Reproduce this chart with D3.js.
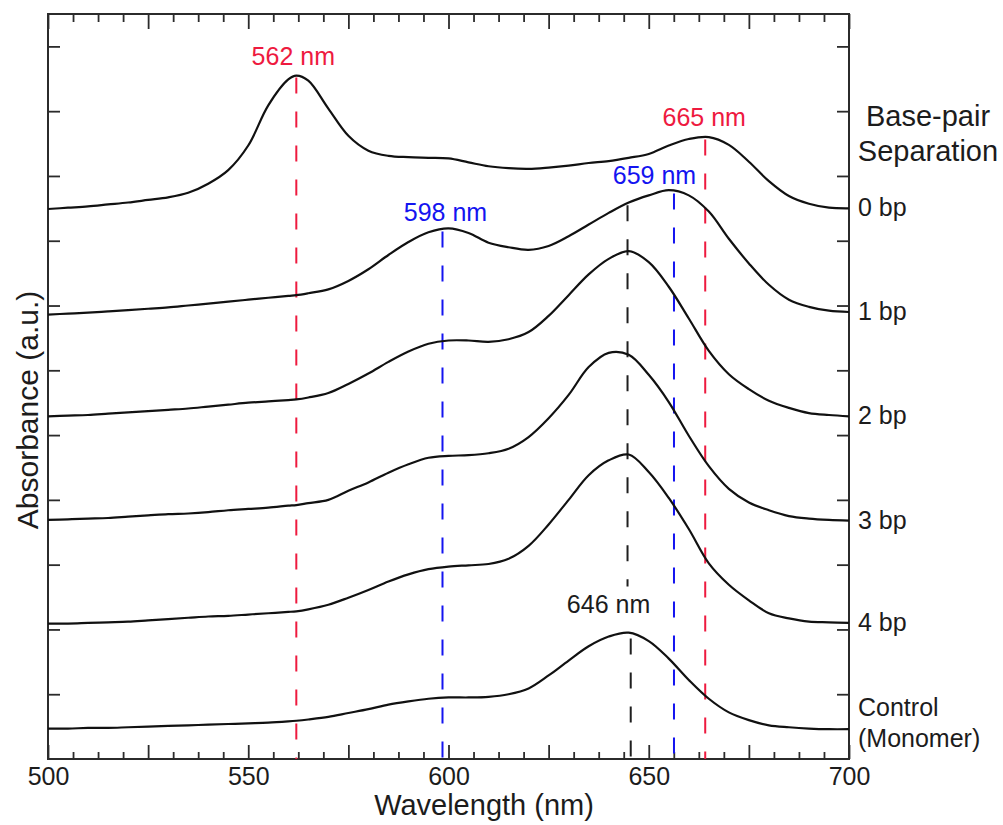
<!DOCTYPE html>
<html><head><meta charset="utf-8">
<script src="https://cdn.jsdelivr.net/npm/d3@7"></script>
<style>
body{margin:0;background:#fff}
svg{display:block}
text{font-family:"Liberation Sans",Arial,Helvetica,sans-serif}
</style>
</head><body>
<svg id="chart" width="1003" height="825"></svg>
<script>
// ---------------- data ----------------
const wavelengths = [500,505,510,515,520,525,530,535,540,545,550,555,560,562,565,570,575,580,585,590,595,600,605,610,615,620,625,630,635,640,645,650,655,660,665,670,675,680,685,690,695,700];
const seriesNames = ["0 bp","1 bp","2 bp","3 bp","4 bp","Control"];
const offsets = [0.849, 0.686, 0.529, 0.369, 0.209, 0.047];
const bp0 = [0.000,0.002,0.004,0.007,0.010,0.014,0.018,0.025,0.039,0.060,0.098,0.160,0.200,0.206,0.198,0.155,0.113,0.090,0.082,0.080,0.079,0.078,0.072,0.066,0.063,0.062,0.064,0.067,0.071,0.074,0.079,0.085,0.098,0.108,0.111,0.099,0.073,0.043,0.020,0.008,0.002,0.001];
const bp1 = [0.000,0.0015,0.003,0.005,0.007,0.009,0.011,0.014,0.017,0.020,0.023,0.026,0.029,0.030,0.033,0.039,0.052,0.070,0.092,0.112,0.127,0.133,0.126,0.111,0.104,0.100,0.106,0.121,0.139,0.157,0.173,0.184,0.192,0.184,0.159,0.117,0.079,0.046,0.023,0.012,0.006,0.004];
const bp2 = [0.000,0.001,0.002,0.004,0.006,0.008,0.010,0.012,0.015,0.018,0.021,0.023,0.025,0.026,0.029,0.036,0.050,0.066,0.084,0.100,0.112,0.117,0.117,0.115,0.119,0.130,0.155,0.187,0.219,0.243,0.255,0.238,0.200,0.151,0.101,0.065,0.042,0.024,0.013,0.005,0.002,0.000];
const bp3 = [0.000,0.001,0.002,0.003,0.005,0.007,0.009,0.010,0.012,0.015,0.017,0.019,0.022,0.023,0.026,0.031,0.045,0.058,0.073,0.086,0.096,0.099,0.100,0.103,0.110,0.128,0.157,0.193,0.236,0.258,0.255,0.224,0.182,0.130,0.083,0.048,0.027,0.015,0.006,0.002,0.000,-0.001];
const bp4 = [0.000,0.000,0.001,0.002,0.003,0.005,0.007,0.009,0.011,0.012,0.014,0.016,0.018,0.019,0.022,0.029,0.040,0.052,0.065,0.076,0.084,0.088,0.090,0.092,0.100,0.120,0.153,0.191,0.229,0.252,0.261,0.234,0.194,0.146,0.093,0.060,0.036,0.016,0.008,0.003,0.002,0.001];
const control = [0.000,0.000,0.001,0.001,0.002,0.003,0.004,0.005,0.006,0.007,0.008,0.009,0.011,0.012,0.014,0.018,0.024,0.030,0.037,0.042,0.046,0.048,0.048,0.049,0.053,0.062,0.082,0.105,0.127,0.142,0.148,0.135,0.108,0.075,0.046,0.025,0.013,0.005,0.002,0.000,-0.001,-0.001];
const spectra = [bp0, bp1, bp2, bp3, bp4, control];

// peak markers (wavelength where line is drawn, series it starts from, label)
const markerNm = [562, 598.5, 656.3, 664.1, 644.7];
const markerSeries = [0, 1, 1, 0, 1];
const markerText = ["562 nm", "598 nm", "659 nm", "665 nm", "646 nm"];
const controlPeakNm = 645.5;

const xTickLabels = [500, 550, 600, 650, 700];
const yTicks = [0.1,0.2,0.3,0.4,0.5,0.6,0.7,0.8,0.9,1.0,1.1];

// ---------------- drawing ----------------
const svg = d3.select("#chart");
const L = 48, R = 849, T = 14, B = 759;
const x = d3.scaleLinear().domain([500, 700]).range([L, R]);
const y = d3.scaleLinear().domain([0, 1.15]).range([B, T]);
const axisColor = "#2b2b2b";
const textColor = "#1c1c1c";
const FONT = '"Liberation Sans", Arial, Helvetica, sans-serif';

function valueAt(series, nm) {
  const i = d3.bisectLeft(wavelengths, nm);
  if (wavelengths[i] === nm) return series[i];
  const x0 = wavelengths[i - 1], x1 = wavelengths[i];
  const t = (nm - x0) / (x1 - x0);
  return series[i - 1] * (1 - t) + series[i] * t;
}

// ticks
const majors = d3.range(500, 700.001, 25);
const minors = d3.range(500, 700.001, 6.25).filter(v => Math.abs(v / 25 - Math.round(v / 25)) > 1e-6);

function styleAxis(g) {
  g.select(".domain").remove();
  g.attr("color", axisColor);
  g.selectAll(".tick line").attr("stroke-width", 1.8);
  g.selectAll(".tick text").attr("fill", textColor).style("font-family", FONT).style("font-size", "25px");
}

svg.append("g").attr("transform", `translate(0,${B})`)
  .call(d3.axisBottom(x).tickValues(minors).tickSize(-7).tickFormat(""))
  .call(styleAxis);
svg.append("g").attr("transform", `translate(0,${B})`)
  .call(d3.axisBottom(x).tickValues(majors).tickSize(-14).tickPadding(8)
    .tickFormat(d => xTickLabels.includes(d) ? d : ""))
  .call(styleAxis);
svg.append("g").attr("transform", `translate(0,${T})`)
  .call(d3.axisTop(x).tickValues(minors).tickSize(-8).tickFormat(""))
  .call(styleAxis);
svg.append("g").attr("transform", `translate(0,${T})`)
  .call(d3.axisTop(x).tickValues(majors).tickSize(-15).tickFormat(""))
  .call(styleAxis);
svg.append("g").attr("transform", `translate(${L},0)`)
  .call(d3.axisLeft(y).tickValues(yTicks).tickSize(-12).tickFormat(""))
  .call(styleAxis);
svg.append("g").attr("transform", `translate(${R},0)`)
  .call(d3.axisRight(y).tickValues(yTicks).tickSize(-12).tickFormat(""))
  .call(styleAxis);

// frame
svg.append("rect").attr("x", L).attr("y", T).attr("width", R - L).attr("height", B - T)
  .attr("fill", "none").attr("stroke", axisColor).attr("stroke-width", 2);

// marker lines
const markerColor = ["#ee1a3f", "#1414f0", "#1414f0", "#ee1a3f", "#1f1f1f"];
const dash = "16,18";
markerNm.forEach((nm, k) => {
  const s = markerSeries[k];
  const top = y(offsets[s] + valueAt(spectra[s], nm)) + 2;
  if (k === 4) {
    const labelY = y(offsets[5] + valueAt(control, controlPeakNm)) - 21;
    svg.append("line").attr("x1", x(nm)).attr("x2", x(nm)).attr("y1", top).attr("y2", labelY - 26)
      .attr("stroke", markerColor[k]).attr("stroke-width", 2).attr("stroke-dasharray", dash);
    svg.append("line").attr("x1", x(controlPeakNm)).attr("x2", x(controlPeakNm)).attr("y1", labelY + 26).attr("y2", B)
      .attr("stroke", markerColor[k]).attr("stroke-width", 2).attr("stroke-dasharray", dash);
  } else {
    svg.append("line").attr("x1", x(nm)).attr("x2", x(nm)).attr("y1", top).attr("y2", B)
      .attr("stroke", markerColor[k]).attr("stroke-width", 2).attr("stroke-dasharray", dash);
  }
});

// curves
const line = d3.line().curve(d3.curveCatmullRom.alpha(0.5));
spectra.forEach((s, i) => {
  svg.append("path")
    .attr("d", line(s.map((v, j) => [x(wavelengths[j]), y(offsets[i] + v)])))
    .attr("fill", "none").attr("stroke", "#111").attr("stroke-width", 2.2)
    .attr("stroke-linejoin", "round");
});

// marker labels
const labelDx = [-3, 3, -19.5, -1, -19];
const labelDy = [-10.5, -9, -8, -11, 0];
markerNm.forEach((nm, k) => {
  const s = markerSeries[k];
  let ly;
  if (k === 4) ly = y(offsets[5] + valueAt(control, controlPeakNm)) - 21;
  else ly = y(offsets[s] + valueAt(spectra[s], nm)) + labelDy[k];
  svg.append("text").attr("x", x(nm) + labelDx[k]).attr("y", ly)
    .attr("text-anchor", "middle").attr("font-size", 25)
    .attr("fill", k === 4 ? textColor : markerColor[k]).text(markerText[k]);
});

// series labels on the right
seriesNames.forEach((name, i) => {
  const yEnd = y(offsets[i] + spectra[i][spectra[i].length - 1]);
  if (name === "Control") {
    svg.append("text").attr("x", 858).attr("y", yEnd - 13).attr("font-size", 25).attr("fill", textColor).text("Control");
    svg.append("text").attr("x", 858).attr("y", yEnd + 17.5).attr("font-size", 25).attr("fill", textColor).text("(Monomer)");
  } else {
    svg.append("text").attr("x", 858).attr("y", yEnd + 8).attr("font-size", 25).attr("fill", textColor).text(name);
  }
});
svg.append("text").attr("x", 928).attr("y", 126).attr("text-anchor", "middle").attr("font-size", 29).attr("fill", textColor).text("Base-pair");
svg.append("text").attr("x", 928).attr("y", 161).attr("text-anchor", "middle").attr("font-size", 29).attr("fill", textColor).text("Separation");

// axis titles
svg.append("text").attr("x", 484).attr("y", 815).attr("text-anchor", "middle").attr("font-size", 29).attr("fill", textColor).text("Wavelength (nm)");
svg.append("text").attr("transform", "translate(38,410) rotate(-90)").attr("text-anchor", "middle").attr("font-size", 30).attr("fill", textColor).text("Absorbance (a.u.)");
</script>
</body></html>
